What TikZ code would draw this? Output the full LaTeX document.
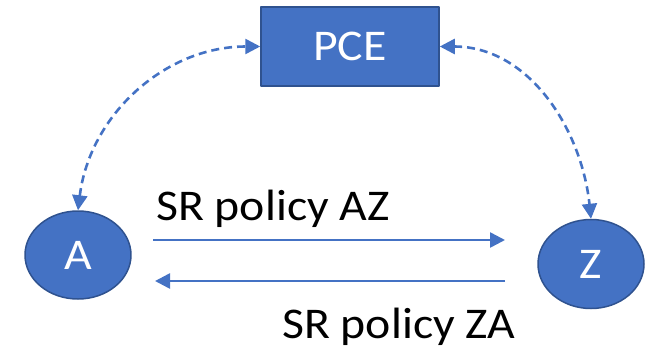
\documentclass[tikz,border=0pt]{standalone}
\usepackage{fontspec}
\setmainfont{Carlito}
\usetikzlibrary{arrows.meta,shapes.geometric}
\definecolor{officeblue}{HTML}{4472C4}
\definecolor{darkblue}{HTML}{2F528F}
\newcommand{\widetext}[1]{\scalebox{1.09}[1]{#1}}
\tikzset{
  netnode/.style={draw=darkblue,line width=1.5pt,fill=officeblue,text=white,inner sep=0pt},
  policy/.style={->,draw=officeblue,line width=2.6pt},
  control/.style={<->,draw=officeblue,line width=2.6pt,dash pattern=on 8bp off 5bp},
  biglabel/.style={font=\fontsize{44}{50}\selectfont}
}
\begin{document}
\begin{tikzpicture}[line join=round,>={Triangle[length=15bp,width=15bp]},x=1bp,y=-1bp]
\useasboundingbox (0,0) rectangle (651,351);
% nodes
\node[netnode,biglabel,rectangle,minimum width=178bp,minimum height=79bp] (pce) at (350,46.5) {\widetext{PCE}};
\node[netnode,biglabel,ellipse,minimum width=106bp,minimum height=88bp] (a) at (78,255) {\widetext{A}};
\node[netnode,biglabel,ellipse,minimum width=106bp,minimum height=89bp] (z) at (591,264) {\widetext{Z}};
% ends of the policy arrows
\coordinate (azstart) at (153,240);
\coordinate (azend) at (505,240);
\coordinate (zastart) at (505,281);
\coordinate (zaend) at (155,281);
% connectors
\draw[control] (a.north) to[out=83,in=180] (pce.west);
\draw[control] (pce.east) to[out=0,in=96] (z.north);
\draw[policy] (azstart) -- (azend);
\draw[policy] (zastart) -- (zaend);
% labels
\node[biglabel,anchor=base west,inner sep=0pt] (azlabel) at (156,220) {\widetext{SR policy AZ}};
\node[biglabel,anchor=base west,inner sep=0pt] (zalabel) at (282,338) {\widetext{SR policy ZA}};
\end{tikzpicture}
\end{document}
